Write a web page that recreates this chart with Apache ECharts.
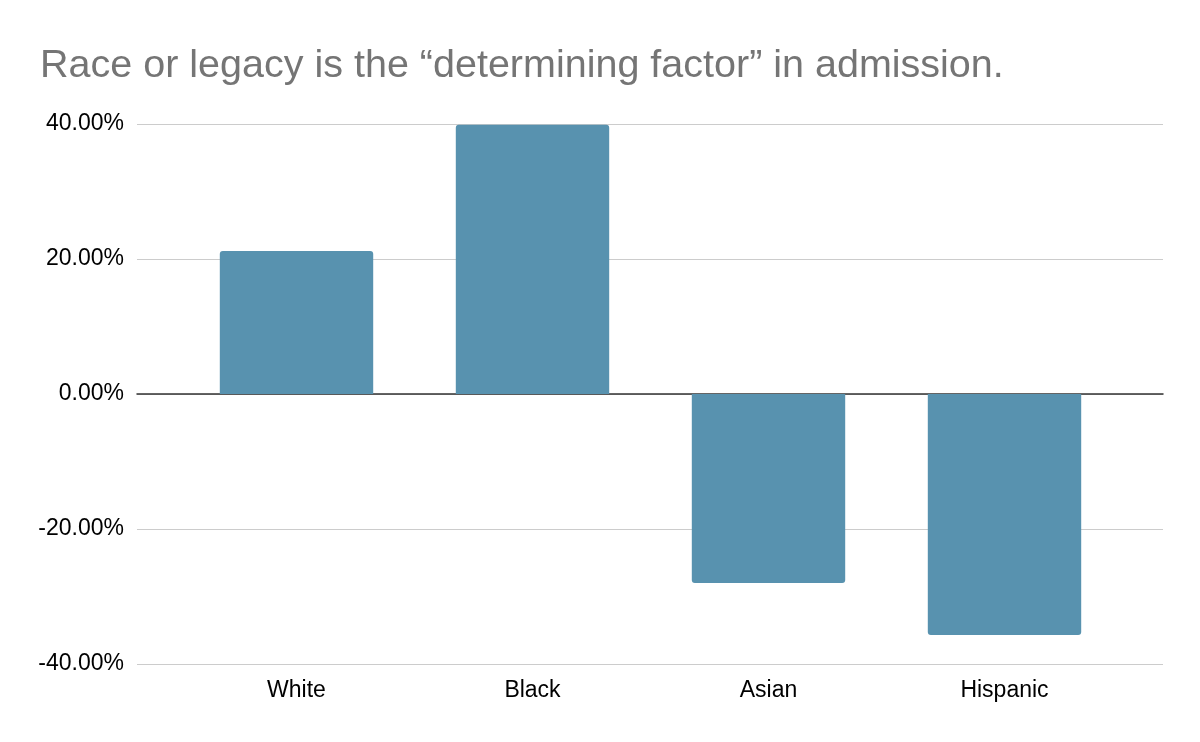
<!DOCTYPE html>
<html><head><meta charset="utf-8">
<script src="https://cdn.jsdelivr.net/npm/echarts@6/dist/echarts.min.js"></script>
<style>html,body{margin:0;padding:0;background:#fff}#c{width:1200px;height:742px}</style>
</head><body><div id="c"></div>
<script>
const titleText = 'Race or legacy is the “determining factor” in admission.';
const categories = ['White', 'Black', 'Asian', 'Hispanic'];
const values = [0.212, 0.399, -0.280, -0.357];
const yTicks = [-0.4, -0.2, 0, 0.2, 0.4];

const chart = echarts.init(document.getElementById('c'));
const fmt = v => (v * 100).toFixed(2) + '%';
const F = '"Liberation Sans", Arial, sans-serif';
chart.setOption({
  animation: false,
  title: { text: titleText, left: 35, top: 41,
    textStyle: { fontFamily: F, fontSize: 39.5, fontWeight: 'normal', color: '#757575' } },
  grid: [
    { left: 137, right: 37, top: 124, bottom: 78 },
    { left: 178.5, right: 77.5, top: 124, bottom: 78 }
  ],
  xAxis: [
    { gridIndex: 0, type: 'value', min: 0, max: 1, show: true,
      axisLine: { show: true, onZero: true, lineStyle: { color: '#333', width: 1.5 } },
      axisTick: { show: false }, axisLabel: { show: false }, splitLine: { show: false } },
    { gridIndex: 1, type: 'category', data: categories,
      axisLine: { show: false }, axisTick: { show: false },
      axisLabel: { fontFamily: F, fontSize: 23, color: '#000', margin: 15 } }
  ],
  yAxis: [
    { gridIndex: 0, type: 'value', min: yTicks[0], max: yTicks[yTicks.length - 1], interval: 0.2,
      axisLine: { show: false }, axisTick: { show: false },
      axisLabel: { formatter: fmt, fontFamily: F, fontSize: 23, color: '#000', margin: 13, padding: [4, 0, 0, 0] },
      splitLine: { lineStyle: { color: '#cccccc', width: 1.2 } } },
    { gridIndex: 1, type: 'value', min: yTicks[0], max: yTicks[yTicks.length - 1], interval: 0.2,
      show: false, splitLine: { show: false } }
  ],
  series: [{
    type: 'bar', xAxisIndex: 1, yAxisIndex: 1, barWidth: '65%',
    data: values.map(v => ({ value: v, itemStyle: { borderRadius: v >= 0 ? [3, 3, 0, 0] : [0, 0, 3, 3] } })),
    itemStyle: { color: '#5892AF' }
  }]
});
</script></body></html>
